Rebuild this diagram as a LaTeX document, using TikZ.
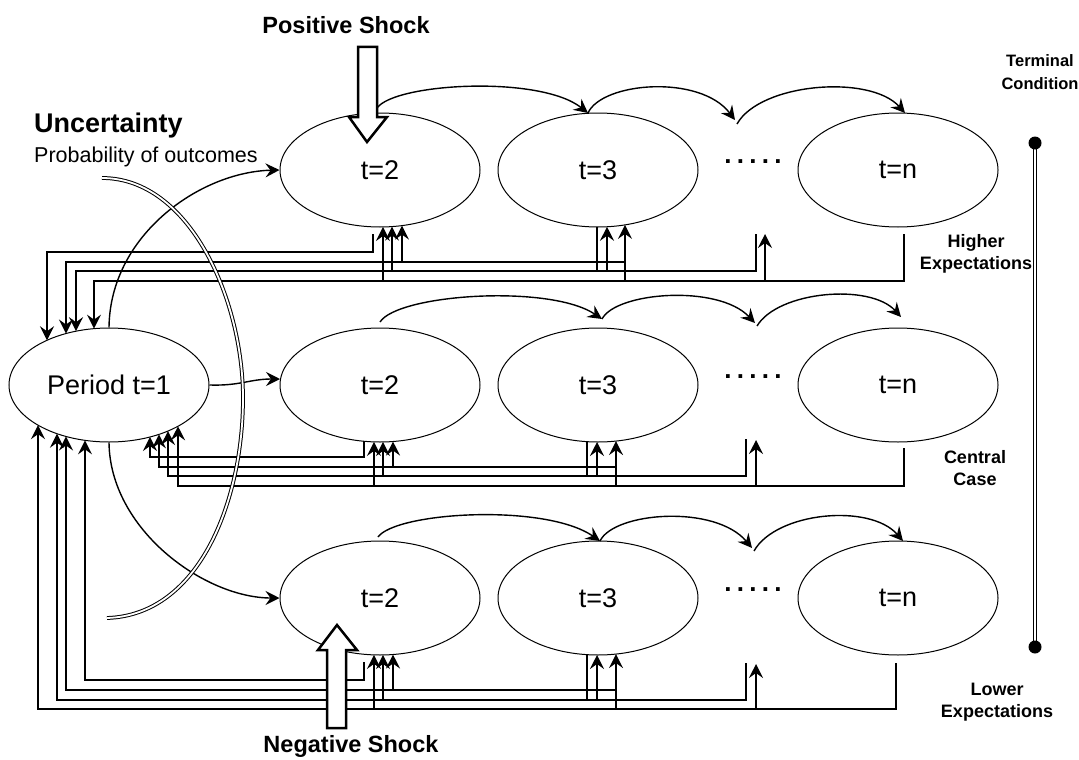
\documentclass[tikz,border=0pt]{standalone}
\usepackage{fontspec}
\setmainfont{Liberation Sans}
\usetikzlibrary{shapes.geometric,arrows.meta}
\pgfmathdeclarefunction{eb}{3}{\pgfmathparse{#3+57*sqrt(1-((#1-#2)/100)^2)}}
\pgfmathdeclarefunction{et}{3}{\pgfmathparse{#3-57*sqrt(1-((#1-#2)/100)^2)}}
\newcommand\rowdots{.\hspace{5.3pt}.\hspace{5.3pt}.\hspace{5.3pt}.\hspace{5.3pt}.}
\begin{document}
\begin{tikzpicture}[x=1pt,y=-1pt,
  ell/.style={draw,ellipse,line width=1pt,minimum width=200pt,minimum height=114pt,inner sep=0pt,font=\fontsize{27}{31}\selectfont},
  fb/.style={line width=1.6pt},
  tip/.style={-{Stealth[length=14pt,width=14pt,inset=5pt]}},
  arc/.style={line width=1.4pt,-{Stealth[length=14pt,width=14pt,inset=5pt]}},
  lab/.style={font=\bfseries\fontsize{18}{22}\selectfont,align=center,inner sep=0pt},
  dotsrow/.style={font=\bfseries\fontsize{26}{30}\selectfont,inner sep=0pt},
  shock/.style={line width=2.5pt,fill=white,line join=miter},
  shocklab/.style={font=\bfseries\fontsize{23.5}{28}\selectfont,inner sep=0pt}
]
\useasboundingbox (0,0) rectangle (1079,760);

% ellipses
\node[ell] (t1) at (109,385) {Period t=1};
\node[ell] (a2) at (380,170) {t=2};
\node[ell] (a3) at (598,170) {t=3};
\node[ell] (an) at (898,170) {t=n};
\node[ell] (b2) at (380,385) {t=2};
\node[ell] (b3) at (598,385) {t=3};
\node[ell] (bn) at (898,385) {t=n};
\node[ell] (c2) at (380,598) {t=2};
\node[ell] (c3) at (598,598) {t=3};
\node[ell] (cn) at (898,598) {t=n};

\node[dotsrow] (ad) at (753,162) {\rowdots};
\node[dotsrow] (bd) at (753,377) {\rowdots};
\node[dotsrow] (cd) at (753,590) {\rowdots};

% forward arcs
\draw[arc] (377,108) .. controls (395,83) and (540,75) .. (588,113);
\draw[arc] (588,113) .. controls (602,82) and (700,74) .. (735,120);
\draw[arc] (737,124) .. controls (760,83) and (870,74) .. (905,113);

\draw[arc] (380,322) .. controls (398,294) and (550,284) .. (602,319);
\draw[arc] (602,319) .. controls (616,292) and (718,284) .. (755,323);
\draw[arc] (757,326) .. controls (778,291) and (870,283) .. (901,317);

\draw[arc] (378,537) .. controls (396,512) and (545,503) .. (600,541);
\draw[arc] (600,541) .. controls (614,512) and (715,504) .. (752,548);
\draw[arc] (754,551) .. controls (776,512) and (870,503) .. (903,541);

% from period t=1
\draw[arc] (t1.north) .. controls (110,235) and (200,172) .. (a2.west);
\draw[arc] (t1.east) .. controls (240,386) and (250,379) .. (280,379);
\draw[arc] (t1.south) .. controls (110,530) and (205,598) .. (c2.west);

% top row feedback
\draw[fb,tip] (373,234) |- (47,252) -- (47,{et(47,109,385)});
\draw[fb,tip] (625,262) -- (66,262) -- (66,{et(66,109,385)});
\draw[fb,tip] (402,262) -- (402,{eb(402,380,170)});
\draw[fb,tip] (756,234) |- (76,271) -- (76,{et(76,109,385)});
\draw[fb] (597,{eb(597,598,170)}) -- (597,271);
\draw[fb,tip] (392,271) -- (392,{eb(392,380,170)});
\draw[fb,tip] (607,271) -- (607,{eb(607,598,170)});
\draw[fb,tip] (904,234) |- (94,281) -- (94,{et(94,109,385)});
\draw[fb,tip] (383,281) -- (383,{eb(383,380,170)});
\draw[fb,tip] (625,281) -- (625,{eb(625,598,170)});
\draw[fb,tip] (765,281) -- (765,234);

% middle row feedback
\draw[fb,tip] (364,{eb(364,380,385)}) |- (150,457) -- (150,{eb(150,109,385)});
\draw[fb,tip] (616,467) -- (159,467) -- (159,{eb(159,109,385)});
\draw[fb,tip] (393,467) -- (393,{eb(393,380,385)});
\draw[fb,tip] (746,439) |- (168,476) -- (168,{eb(168,109,385)});
\draw[fb] (587,{eb(587,598,385)}) -- (587,476);
\draw[fb,tip] (383,476) -- (383,{eb(383,380,385)});
\draw[fb,tip] (597,476) -- (597,{eb(597,598,385)});
\draw[fb,tip] (904,448) |- (178,486) -- (178,{eb(178,109,385)});
\draw[fb,tip] (374,486) -- (374,{eb(374,380,385)});
\draw[fb,tip] (616,486) -- (616,{eb(616,598,385)});
\draw[fb,tip] (756,486) -- (756,440);

% bottom row feedback
\draw[fb,tip] (364,662) |- (85,680) -- (85,{eb(85,109,385)});
\draw[fb,tip] (616,690) -- (66,690) -- (66,{eb(66,109,385)});
\draw[fb,tip] (393,690) -- (393,{eb(393,380,598)});
\draw[fb,tip] (746,663) |- (57,700) -- (57,{eb(57,109,385)});
\draw[fb] (587,{eb(587,598,598)}) -- (587,700);
\draw[fb,tip] (383,700) -- (383,{eb(383,380,598)});
\draw[fb,tip] (597,700) -- (597,{eb(597,598,598)});
\draw[fb,tip] (896,663) |- (38,709) -- (38,{eb(38,109,385)});
\draw[fb,tip] (374,709) -- (374,{eb(374,380,598)});
\draw[fb,tip] (616,709) -- (616,{eb(616,598,598)});
\draw[fb,tip] (756,709) -- (756,664);

% uncertainty arc
\draw[line width=1pt,double,double distance=1.8pt] (102,178) .. controls (190,178) and (243,300) .. (243,398) .. controls (243,500) and (200,615) .. (107,618);

% terminal condition line
\draw[line width=1.2pt,double,double distance=2.2pt] (1035,143) -- (1035,647);
\fill (1035,143) circle (6.5pt);
\fill (1035,647) circle (6.5pt);

% shocks
\draw[shock] (358,47) -- (377,47) -- (377,117) -- (387,117) -- (367,142) -- (349,117) -- (358,117) -- cycle;
\draw[shock] (327,728) -- (346,728) -- (346,650) -- (357,650) -- (337,625) -- (318,650) -- (327,650) -- cycle;

% labels
\node[shocklab] (ps) at (346,25) {Positive Shock};
\node[shocklab] (ns) at (351,746) {Negative Shock};
\node[anchor=base west,inner sep=0pt,font=\bfseries\fontsize{27}{32}\selectfont] (unc) at (34,132) {Uncertainty};
\node[anchor=base west,inner sep=0pt,font=\fontsize{21.5}{26}\selectfont] (prob) at (34,162) {Probability of outcomes};
\node[lab,font=\bfseries\fontsize{16.5}{23}\selectfont] (term) at (1040,72) {Terminal\\Condition};
\node[lab] (hi) at (976,254) {Higher\\Expectations};
\node[lab] (ce) at (975,468) {Central\\Case};
\node[lab] (lo) at (997,702) {Lower\\Expectations};
\end{tikzpicture}
\end{document}
